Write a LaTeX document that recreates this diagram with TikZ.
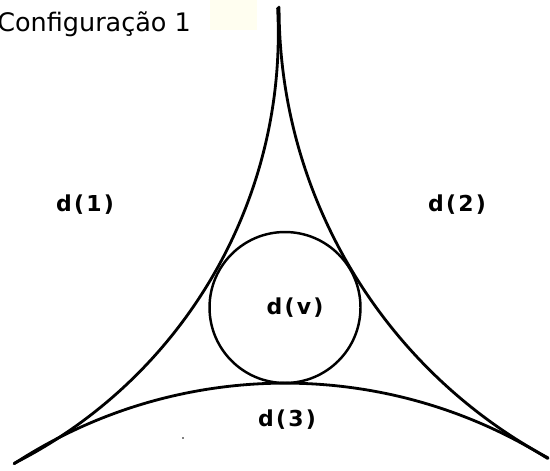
\documentclass[tikz,border=0pt]{standalone}
\usepackage{fontspec}
\setmainfont{DejaVu Sans}
\newfontfamily\labfont[LetterSpace=10]{DejaVu Sans}
\begin{document}
\begin{tikzpicture}[x=0.02cm,y=0.02cm,
  curve/.style={line width=1.6pt,line cap=round},
  lab/.style={font=\labfont\bfseries\fontsize{12.5}{14}\selectfont,inner sep=0pt},
  title/.style={font=\fontsize{14.5}{16}\selectfont,inner sep=0pt}]
\useasboundingbox (0,0) rectangle (550,470);
% faint scan tint
\fill[yellow!6] (210,440) rectangle (257,470);
% three concave arcs
\draw[curve] ([shift={(3.02:9.64cm)}]-203.6,436.5) arc[start angle=3.02,end angle=-63.13,radius=9.64cm];
\draw[curve] ([shift={(179.92:10.227cm)}]790.3,462.3) arc[start angle=179.92,end angle=241.72,radius=10.227cm];
\draw[curve] ([shift={(123.13:9.915cm)}]285,-408.75) arc[start angle=123.13,end angle=57.99,radius=9.915cm];
% inscribed circle
\node[circle,draw,line width=1.4pt,minimum size=3.02cm,inner sep=0pt] (cv) at (285,162.5) {};
% labels
\node[title,anchor=base west] (t) at (-3,438) {Configuração 1};
\node[lab] (d1) at (85,265) {d(1)};
\node[lab] (d2) at (457,265) {d(2)};
\node[lab] (dv) at (295,162) {d(v)};
\node[lab] (d3) at (287,50) {d(3)};
\fill (183,32) circle[radius=0.8];
\end{tikzpicture}
\end{document}
